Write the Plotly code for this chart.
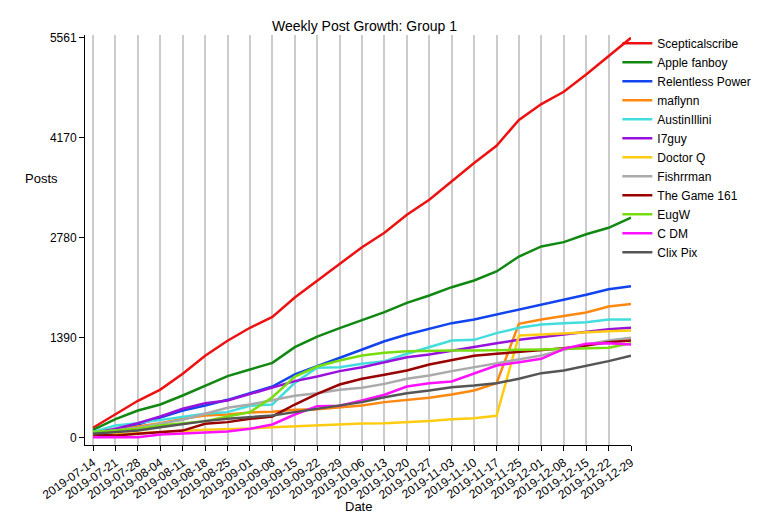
import plotly.graph_objects as go

dates = ["2019-07-14","2019-07-21","2019-07-28","2019-08-04","2019-08-11","2019-08-18","2019-08-25",
         "2019-09-01","2019-09-08","2019-09-15","2019-09-22","2019-09-29","2019-10-06","2019-10-13",
         "2019-10-20","2019-10-27","2019-11-03","2019-11-10","2019-11-17","2019-11-25","2019-12-01",
         "2019-12-08","2019-12-15","2019-12-22","2019-12-29"]

scepticalscribe = [140,330,515,670,890,1140,1350,1530,1680,1950,2180,2420,2650,2850,3100,3310,3570,3820,4060,4420,4640,4810,5050,5310,5561]
apple_fanboy = [110,260,380,463,588,727,857,950,1042,1260,1408,1524,1640,1747,1876,1978,2094,2187,2312,2520,2660,2720,2830,2920,3060]
relentless_power = [80,110,185,287,380,450,528,620,713,880,996,1112,1232,1343,1436,1510,1594,1645,1714,1779,1853,1918,1988,2066,2108]
maflynn = [65,100,157,204,264,310,324,352,361,390,398,426,450,496,528,556,602,658,760,1585,1645,1696,1742,1825,1862]
austinillini = [80,171,204,250,287,334,357,445,463,764,973,982,1028,1066,1168,1260,1353,1362,1455,1529,1575,1594,1608,1645,1645]
i7guy = [65,125,204,297,403,482,519,612,704,788,852,927,982,1047,1121,1158,1214,1260,1316,1362,1399,1445,1483,1510,1529]
doctor_q = [32,46,56,74,93,111,116,130,148,162,176,190,199,204,218,232,259,273,306,1422,1436,1455,1473,1483,1492]
fishrrman = [65,100,139,195,250,334,417,463,528,584,620,667,695,750,820,866,927,982,1038,1084,1144,1223,1297,1353,1390]
the_game_161 = [46,32,56,74,100,195,218,264,297,463,612,741,820,876,936,1019,1084,1140,1168,1191,1223,1246,1283,1330,1353]
eugw = [80,100,125,171,204,232,297,357,565,852,991,1075,1144,1181,1205,1214,1214,1214,1214,1223,1228,1237,1237,1251,1316]
c_dm = [9,9,9,46,65,74,88,125,185,324,440,445,519,598,713,760,783,899,1005,1052,1098,1237,1307,1316,1297]
clix_pix = [56,74,100,148,195,232,264,287,310,357,403,445,496,565,620,658,704,727,760,820,899,936,1000,1066,1140]

series = [
    ("Scepticalscribe", scepticalscribe, "#ee1111"),
    ("Apple fanboy", apple_fanboy, "#118811"),
    ("Relentless Power", relentless_power, "#1144ee"),
    ("maflynn", maflynn, "#ff8811"),
    ("AustinIllini", austinillini, "#44dddd"),
    ("I7guy", i7guy, "#9911dd"),
    ("Doctor Q", doctor_q, "#ffcc11"),
    ("Fishrrman", fishrrman, "#aaaaaa"),
    ("The Game 161", the_game_161, "#990000"),
    ("EugW", eugw, "#77dd11"),
    ("C DM", c_dm, "#ff11ff"),
    ("Clix Pix", clix_pix, "#555555"),
]
yticks = [0, 1390, 2780, 4170, 5561]

fig = go.Figure()
for name, vals, col in series:
    fig.add_trace(go.Scatter(x=dates, y=vals, name=name, mode="lines", line=dict(color=col, width=2.5)))

fig.update_layout(
    width=775, height=525, plot_bgcolor="white", paper_bgcolor="white",
    font=dict(family="Liberation Sans, Arial", size=12, color="black"),
    title=dict(text="Weekly Post Growth: Group 1", x=0.46, xanchor="center", y=0.975, font=dict(size=14)),
    margin=dict(l=77, r=152, t=27, b=88, autoexpand=False),
    legend=dict(x=0.975, y=1.015, xanchor="left", yanchor="top", font=dict(size=12), tracegroupgap=0,
                itemwidth=30, bgcolor="rgba(0,0,0,0)"),
    xaxis=dict(type="category", tickmode="array", tickvals=dates, ticktext=dates, tickangle=-35,
               range=[-0.36, 24], showgrid=True, gridcolor="#cccccc", gridwidth=1.5, automargin=False,
               showline=True, linecolor="black", ticks="outside", ticklen=5, tickcolor="black"),
    yaxis=dict(range=[-100, 5600], tickvals=yticks, ticktext=[str(v) for v in yticks], automargin=False,
               showgrid=False, zeroline=False, showline=True, linecolor="black",
               ticks="outside", ticklen=5, tickcolor="black"),
    annotations=[
        dict(text="Posts", xref="paper", yref="paper", x=-0.079, y=0.65, showarrow=False,
             xanchor="center", font=dict(size=13)),
        dict(text="Date", xref="paper", yref="paper", x=0.5, y=-0.151, showarrow=False,
             xanchor="center", yanchor="middle", font=dict(size=13)),
    ],
)
fig.write_html("out.html")
